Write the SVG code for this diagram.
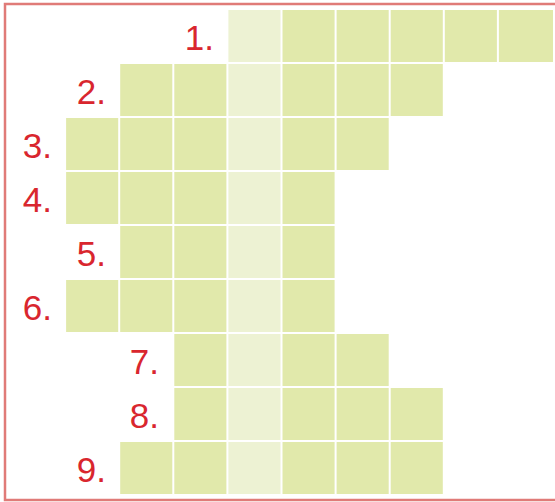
<svg xmlns="http://www.w3.org/2000/svg" width="555" height="502" viewBox="0 0 555 502">
<style>
.c{fill:#e1e9ab;}
.h{fill:#edf2d3;}
.l{font-family:"Liberation Sans",Arial,sans-serif;font-size:35px;fill:#d9262e;text-anchor:end;}
</style>
<rect x="0" y="0" width="555" height="502" fill="#ffffff"/>
<rect x="5" y="4" width="570" height="496" fill="none" stroke="#e07b78" stroke-width="2.5"/>
<defs>
<rect id="cell" width="52.1" height="52" class="c"/>
</defs>
<g id="row1">
<text class="l" x="214" y="50">1.</text>
<rect class="h" x="228.4" y="10" width="52.1" height="52"/>
<rect class="c" x="282.5" y="10" width="52.1" height="52"/>
<rect class="c" x="336.6" y="10" width="52.1" height="52"/>
<rect class="c" x="390.7" y="10" width="52.1" height="52"/>
<rect class="c" x="444.8" y="10" width="52.1" height="52"/>
<rect class="c" x="498.9" y="10" width="54.1" height="52"/>
</g>
<g id="row2">
<text class="l" x="106" y="104">2.</text>
<rect class="c" x="120.2" y="64" width="52.1" height="52"/>
<rect class="c" x="174.3" y="64" width="52.1" height="52"/>
<rect class="h" x="228.4" y="64" width="52.1" height="52"/>
<rect class="c" x="282.5" y="64" width="52.1" height="52"/>
<rect class="c" x="336.6" y="64" width="52.1" height="52"/>
<rect class="c" x="390.7" y="64" width="52.1" height="52"/>
</g>
<g id="row3">
<text class="l" x="52" y="158">3.</text>
<rect class="c" x="66.1" y="118" width="52.1" height="52"/>
<rect class="c" x="120.2" y="118" width="52.1" height="52"/>
<rect class="c" x="174.3" y="118" width="52.1" height="52"/>
<rect class="h" x="228.4" y="118" width="52.1" height="52"/>
<rect class="c" x="282.5" y="118" width="52.1" height="52"/>
<rect class="c" x="336.6" y="118" width="52.1" height="52"/>
</g>
<g id="row4">
<text class="l" x="52" y="212">4.</text>
<rect class="c" x="66.1" y="172" width="52.1" height="52"/>
<rect class="c" x="120.2" y="172" width="52.1" height="52"/>
<rect class="c" x="174.3" y="172" width="52.1" height="52"/>
<rect class="h" x="228.4" y="172" width="52.1" height="52"/>
<rect class="c" x="282.5" y="172" width="52.1" height="52"/>
</g>
<g id="row5">
<text class="l" x="106" y="266">5.</text>
<rect class="c" x="120.2" y="226" width="52.1" height="52"/>
<rect class="c" x="174.3" y="226" width="52.1" height="52"/>
<rect class="h" x="228.4" y="226" width="52.1" height="52"/>
<rect class="c" x="282.5" y="226" width="52.1" height="52"/>
</g>
<g id="row6">
<text class="l" x="52" y="320">6.</text>
<rect class="c" x="66.1" y="280" width="52.1" height="52"/>
<rect class="c" x="120.2" y="280" width="52.1" height="52"/>
<rect class="c" x="174.3" y="280" width="52.1" height="52"/>
<rect class="h" x="228.4" y="280" width="52.1" height="52"/>
<rect class="c" x="282.5" y="280" width="52.1" height="52"/>
</g>
<g id="row7">
<text class="l" x="159" y="374">7.</text>
<rect class="c" x="174.3" y="334" width="52.1" height="52"/>
<rect class="h" x="228.4" y="334" width="52.1" height="52"/>
<rect class="c" x="282.5" y="334" width="52.1" height="52"/>
<rect class="c" x="336.6" y="334" width="52.1" height="52"/>
</g>
<g id="row8">
<text class="l" x="159" y="428">8.</text>
<rect class="c" x="174.3" y="388" width="52.1" height="52"/>
<rect class="h" x="228.4" y="388" width="52.1" height="52"/>
<rect class="c" x="282.5" y="388" width="52.1" height="52"/>
<rect class="c" x="336.6" y="388" width="52.1" height="52"/>
<rect class="c" x="390.7" y="388" width="52.1" height="52"/>
</g>
<g id="row9">
<text class="l" x="106" y="482">9.</text>
<rect class="c" x="120.2" y="442" width="52.1" height="52"/>
<rect class="c" x="174.3" y="442" width="52.1" height="52"/>
<rect class="h" x="228.4" y="442" width="52.1" height="52"/>
<rect class="c" x="282.5" y="442" width="52.1" height="52"/>
<rect class="c" x="336.6" y="442" width="52.1" height="52"/>
<rect class="c" x="390.7" y="442" width="52.1" height="52"/>
</g>
<g id="connectors"></g>
</svg>
